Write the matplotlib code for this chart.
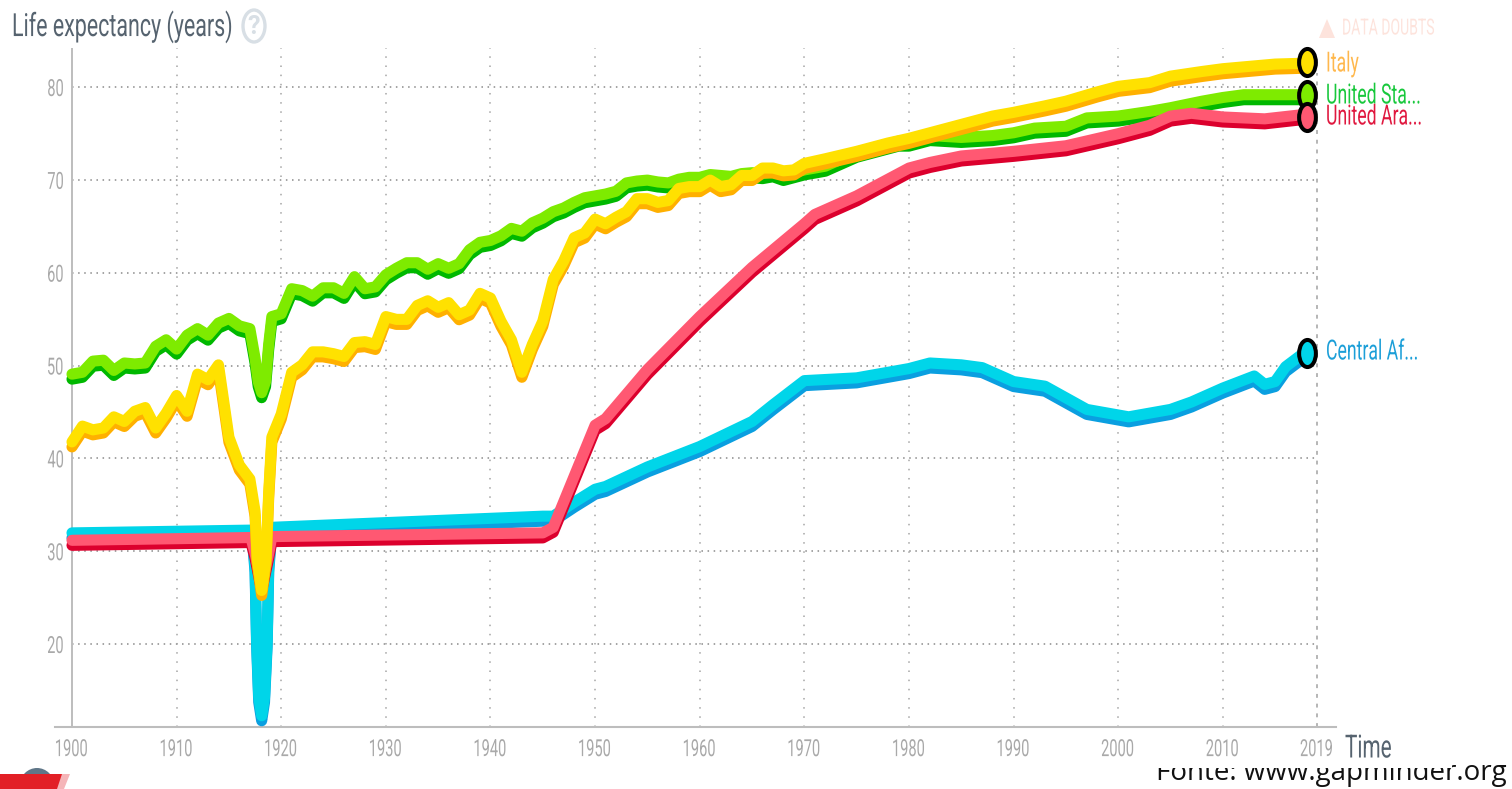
import matplotlib
matplotlib.use('Agg')
import matplotlib.pyplot as plt
import matplotlib.patheffects as pe
from matplotlib.markers import MarkerStyle
from matplotlib.patches import Rectangle, Polygon, Circle, Ellipse
from matplotlib.transforms import Affine2D

W, H = 1512, 789

# anos e valores
anos_italia = list(range(1900, 1918)) + [1917.5, 1917.7, 1918.13, 1918.55, 1918.8, 1919.1] + list(range(1920, 1970)) + \
    [1970, 1972, 1975, 1978, 1980, 1982, 1985, 1988, 1990, 1993, 1995, 1998,
     2000, 2003, 2005, 2008, 2010, 2013, 2015, 2018]
italia = [41.5, 43.2, 42.8, 43.0, 44.2, 43.7, 44.8, 45.2, 43.0, 44.6,
          46.5, 44.8, 48.8, 48.2, 49.8, 42.0, 39.0, 37.5,
          34.0, 29.0, 25.5, 29.0, 36.0, 42.0,
          44.5, 49.0, 49.8, 51.2, 51.2, 51.0, 50.7, 52.2, 52.3, 52.0,
          55.0, 54.7, 54.7, 56.2, 56.7, 56.0, 56.5, 55.2, 55.7, 57.5,
          57.0, 54.5, 52.5, 49.0, 52.0, 54.5, 59.0, 61.0, 63.5, 64.0,
          65.5, 65.0, 65.7, 66.3, 67.7, 67.7, 67.3, 67.5, 68.8, 69.0,
          69.0, 69.7, 69.0, 69.2, 70.2, 70.2, 71.0, 71.0, 70.7, 70.8,
          71.5, 72.0, 72.8, 73.7, 74.2, 74.8, 75.7, 76.6, 77.0, 77.7, 78.2, 79.2,
          79.8, 80.2, 80.9, 81.4, 81.7, 82.0, 82.2, 82.3]

anos_eua = list(range(1900, 1918)) + [1917.5, 1917.8, 1918.13, 1918.5, 1918.8, 1919.1] + list(range(1920, 1983)) + \
    [1985, 1988, 1990, 1992, 1995, 1997, 2000, 2003, 2005, 2008, 2010, 2012, 2015, 2018]
eua = [48.8, 49.0, 50.2, 50.3, 49.2, 50.0, 49.9, 50.0, 51.8, 52.5,
       51.5, 53.0, 53.7, 53.0, 54.3, 54.8, 54.0, 53.7,
       50.5, 48.0, 46.8, 48.0, 52.0, 55.0,
       55.3, 58.0, 57.8, 57.2, 58.1, 58.1, 57.5, 59.3, 58.0, 58.2,
       59.5, 60.2, 60.8, 60.8, 60.1, 60.7, 60.2, 60.7, 62.2, 63.0,
       63.2, 63.7, 64.5, 64.2, 65.1, 65.6, 66.3, 66.7, 67.3, 67.8,
       68.0, 68.2, 68.5, 69.4, 69.6, 69.7, 69.5, 69.4, 69.8, 70.0,
       70.0, 70.3, 70.2, 70.1, 70.4, 70.5, 70.4, 70.6, 70.2, 70.5,
       70.8, 71.0, 71.2, 71.7, 72.2, 72.7, 73.0, 73.3, 73.6, 73.9,
       73.9, 74.2, 74.5,
       74.3, 74.5, 74.8, 75.3, 75.5, 76.4, 76.6, 77.1, 77.5, 78.2, 78.6, 78.9, 78.9, 78.9]

anos_emirados = [1900, 1917.1, 1917.5, 1918.13, 1918.8, 1919.1, 1945, 1946, 1950, 1951, 1955, 1960, 1965, 1970, 1971,
                 1975, 1980, 1982, 1985, 1990, 1995, 2000, 2003, 2005, 2007, 2010, 2014, 2018]
emirados = [30.9, 31.2, 29.5, 26.0, 29.5, 31.3, 31.7, 32.3, 43.3, 44.0, 49.3, 55.0, 60.3, 65.0, 66.0,
            68.0, 71.0, 71.6, 72.3, 72.8, 73.4, 74.7, 75.6, 76.6, 76.9, 76.5, 76.3, 76.8]

anos_caf = [1900, 1917.2, 1917.5, 1917.65, 1917.85, 1918.13, 1918.4, 1918.65, 1918.8, 1919.1, 1945, 1946, 1948, 1950,
            1951, 1955, 1960, 1965, 1967, 1970, 1975, 1980, 1982, 1985, 1987, 1990, 1993, 1997, 2001, 2005, 2007,
            2010, 2013, 2014, 2015, 2016, 2018]
caf = [31.7, 32.0, 28.0, 20.0, 14.0, 12.0, 14.0, 20.0, 28.0, 32.3, 33.5, 33.5, 35.0, 36.4,
       36.7, 38.8, 41.0, 43.7, 45.5, 48.1, 48.4, 49.4, 50.0, 49.8, 49.5, 48.0, 47.5, 45.0, 44.2, 45.0, 45.8,
       47.3, 48.6, 47.7, 48.0, 49.6, 51.3]

# os circulos do fim ficam um pouco acima da linha na imagem
fim_italia = 82.65
fim_eua = 79.1
fim_emirados = 76.8
fim_caf = 51.4

anos_ticks = [1900, 1910, 1920, 1930, 1940, 1950, 1960, 1970, 1980, 1990, 2000, 2010, 2019]
valores_ticks = [20, 30, 40, 50, 60, 70, 80]

plt.rcParams['font.family'] = ['Roboto', 'DejaVu Sans']


class Estreita(pe.AbstractPathEffect):
    # fonte condensada nao existe aqui, entao aperta o texto na horizontal
    def __init__(self, sx, ancora=0.0):
        super().__init__()
        self.sx = sx
        self.ancora = ancora

    def draw_path(self, renderer, gc, tpath, affine, rgbFace=None):
        larg = tpath.get_extents().width
        novo = Affine2D().scale(self.sx, 1).translate((1 - self.sx) * larg * self.ancora, 0) + affine
        renderer.draw_path(gc, tpath, novo, rgbFace)


fig = plt.figure(figsize=(W / 100, H / 100), dpi=100)

# eixo em pixels: x 55..1336, y 48..727
ax = fig.add_axes([55 / W, 1 - 727 / H, (1336 - 55) / W, (727 - 48) / H])
px_ano = (1223 - 72) / 110
px_val = (644 - 87) / 60
ax.set_xlim(1900 - 17 / px_ano, 2019 + 19 / px_ano)
ax.set_ylim(20 - (727 - 644) / px_val, 80 + (87 - 48) / px_val)

for s in ['top', 'right', 'left']:
    ax.spines[s].set_visible(False)
ax.spines['bottom'].set_color('#bdbdbd')
ax.spines['bottom'].set_linewidth(1.5)

ax.hlines(valores_ticks, 1900, 2019, colors='#8a8a8a', linewidth=1.1, linestyles=(0, (1, 3)), zorder=1)
ax.vlines(anos_ticks[1:-1], ax.get_ylim()[0], ax.get_ylim()[1], colors='#a5a5a5', linewidth=1.1,
          linestyles=(0, (1, 5)), zorder=1)
ax.vlines(1900, ax.get_ylim()[0], ax.get_ylim()[1], colors='#bdbdbd', linewidth=1.4, zorder=1)
ax.vlines(2019, ax.get_ylim()[0], 81.5, colors='#b5b5b5', linewidth=1.4, linestyles=(0, (2, 3)), zorder=1)

ax.set_xticks(anos_ticks)
ax.set_yticks(valores_ticks)
ax.tick_params(axis='both', length=0, labelcolor='#a9a9a9', labelsize=17)
ax.tick_params(axis='x', pad=8)
ax.tick_params(axis='y', pad=-7)
for t in ax.get_xticklabels():
    t.set_path_effects([Estreita(0.62, 0.5)])
for t in ax.get_yticklabels():
    t.set_path_effects([Estreita(0.62, 1.0)])


def linha(x, y, fim, claro, escuro, z):
    ax.plot(x, y, color=claro, lw=8, solid_joinstyle='round', solid_capstyle='round', zorder=z,
            path_effects=[pe.Stroke(linewidth=8, foreground=escuro, offset=(0, -1.8)),
                          pe.Stroke(linewidth=8, foreground=claro, offset=(0, 1.8))])
    ax.plot(x[-1], fim, marker=MarkerStyle('o', transform=Affine2D().scale(0.62, 1)), ms=19.5, mfc=claro,
            mec='black', mew=2.9, zorder=z + 10, clip_on=False)


linha(anos_caf, caf, fim_caf, '#00d5e9', '#0a9fe0', 3)
linha(anos_eua, eua, fim_eua, '#7eeb00', '#00b800', 4)
linha(anos_emirados, emirados, fim_emirados, '#ff5872', '#dc002d', 5)
linha(anos_italia, italia, fim_italia, '#ffe100', '#ffb000', 6)

# camada em pixels para os textos soltos
ax_h = fig.add_axes([0, 0, 1, 1], facecolor='none', zorder=5)
ax_h.set_xlim(0, W)
ax_h.set_ylim(H, 0)
ax_h.axis('off')


def rotulo(x, y, s, cor, tam, sx, z=6):
    ax_h.text(x, y, s, color=cor, fontsize=tam, va='center', zorder=z, path_effects=[Estreita(sx)])


rotulo(1326, 64, 'Italy', '#ffb84d', 20, 0.636)
rotulo(1326, 96, 'United Sta...', '#18c83c', 20, 0.636)
rotulo(1326, 117, 'United Ara...', '#e0183f', 20, 0.636)
rotulo(1326, 352, 'Central Af...', '#1c9fd8', 20, 0.636)
rotulo(1342, 29, 'DATA DOUBTS', '#fde3dc', 16, 0.63)
ax_h.add_patch(Polygon([[1319, 38], [1327, 19], [1335, 38]], fc='#fde3dc', ec='none'))

rotulo(12, 27, 'Life expectancy (years)', '#56636f', 23, 0.67)
ax_h.add_patch(Ellipse((254, 26), 22, 32, fc='white', ec='#d8dfe5', lw=2.4))
ax_h.text(254, 26.5, '?', color='#d8dfe5', fontsize=18, fontweight='bold', ha='center', va='center')

rotulo(1345, 749, 'Time', '#56636f', 23, 0.65)

# rodape cortado pela imagem colada por cima
ax_h.text(1507, 780, 'Fonte: www.gapminder.org', color='#111111', fontsize=20, family='Open Sans',
          ha='right', va='baseline', zorder=2)
ax_h.add_patch(Rectangle((1100, 757), 352, 11, fc='white', ec='none', zorder=3))

# canto inferior esquerdo
ax_h.add_patch(Circle((37, 785), 17, fc='#5f7688', ec='none', zorder=2))
ax_h.add_patch(Polygon([[0, 774], [70, 774], [64, 789], [0, 789]], fc='#f5b5b8', ec='none', zorder=3))
ax_h.add_patch(Polygon([[0, 774], [62, 774], [57, 789], [0, 789]], fc='#e21f26', ec='none', zorder=4))

fig.savefig('out.png', dpi=100)
